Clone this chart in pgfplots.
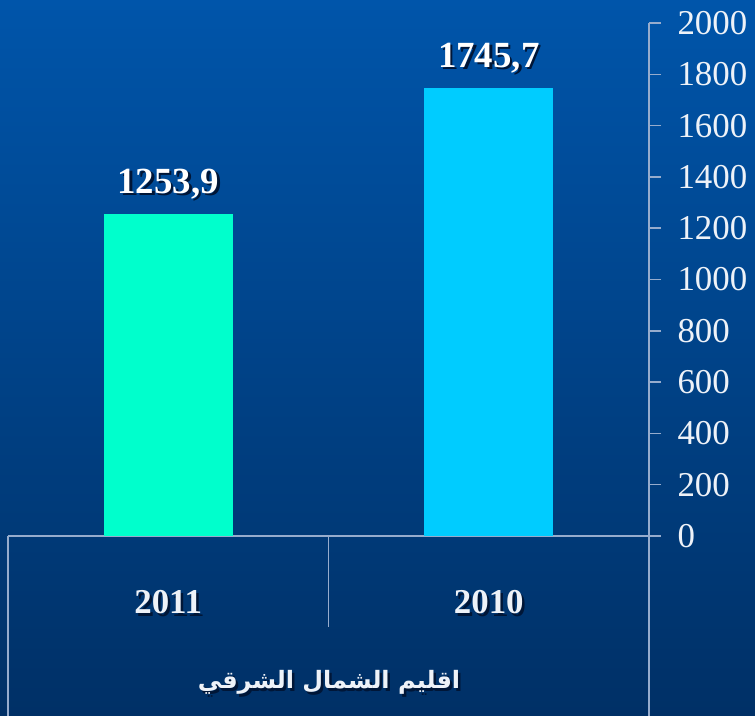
\documentclass[border=0pt]{standalone}
\usepackage{pgfplots}
\pgfplotsset{compat=1.18}
\usepackage{fontspec}
\setmainfont{Liberation Serif}
\newfontfamily\arabicfont[Script=Arabic]{DejaVu Sans}
\TeXXeTstate=1

\definecolor{bgtop}{RGB}{0,85,170}
\definecolor{bgmid}{RGB}{0,66,138}
\definecolor{bgbot}{RGB}{0,48,102}
\definecolor{barA}{RGB}{0,255,204}
\definecolor{barB}{RGB}{0,204,255}
\definecolor{rule}{RGB}{150,172,205}
\definecolor{lbl}{RGB}{238,242,248}
\definecolor{shd}{RGB}{0,22,55}

% text with a small drop shadow
\newcommand\sh[1]{\makebox[0pt][l]{\hspace*{2.5bp}\raisebox{-2.5bp}{\textcolor{shd}{#1}}}#1}

\begin{document}
\begin{tikzpicture}[x=1bp,y=1bp]
\shade[top color=bgtop, middle color=bgmid, bottom color=bgbot] (0,0) rectangle (755,716);
\begin{axis}[
  at={(8bp,180bp)}, anchor=south west,
  width=641bp, height=513bp, scale only axis,
  xmin=-0.5, xmax=1.5, ymin=0, ymax=2000,
  axis y line*=right, axis x line*=bottom,
  axis line style={draw=rule, line width=1.5bp, -},
  ytick={0,200,...,2000},
  tick align=outside, major tick length=12bp,
  ytick style={draw=rule, line width=1.5bp},
  yticklabel style={font=\fontsize{35}{37}\selectfont, text=lbl, anchor=west, xshift=13bp,
    /pgf/number format/1000 sep={}},
  /pgf/number format/assume math mode=true,
  xtick={0,1}, xticklabels={\sh{2011},\sh{2010}},
  xtick style={draw=none},
  xticklabel style={font=\bfseries\fontsize{35}{37}\selectfont, text=lbl, anchor=base, yshift=-66bp},
  ybar, bar width=129bp,
  nodes near coords={\sh{\pgfmathprintnumber{\pgfplotspointmeta}}},
  nodes near coords style={font=\bfseries\fontsize{37}{39}\selectfont, text=white, anchor=base, yshift=21bp,
    /pgf/number format/.cd, fixed, fixed zerofill, precision=1, use comma, 1000 sep={}},
  clip=false,
]
\addplot[fill=barA, draw=none, bar shift=0pt] coordinates {(0,1253.9)};
\addplot[fill=barB, draw=none, bar shift=0pt] coordinates {(1,1745.7)};
\end{axis}
\draw[rule, line width=1.5bp] (8,0) -- (8,180);
\draw[rule, line width=1.5bp] (328.5,89) -- (328.5,180);
\draw[rule, line width=1.5bp] (649,0) -- (649,180);
\node[text=lbl, font=\arabicfont\bfseries\fontsize{24}{26}\selectfont, anchor=base] at (329,27)
  {\sh{\beginR اقليم الشمال الشرقي\endR}};
\pgfresetboundingbox
\useasboundingbox (0,0) rectangle (755,716);
\end{tikzpicture}
\end{document}
